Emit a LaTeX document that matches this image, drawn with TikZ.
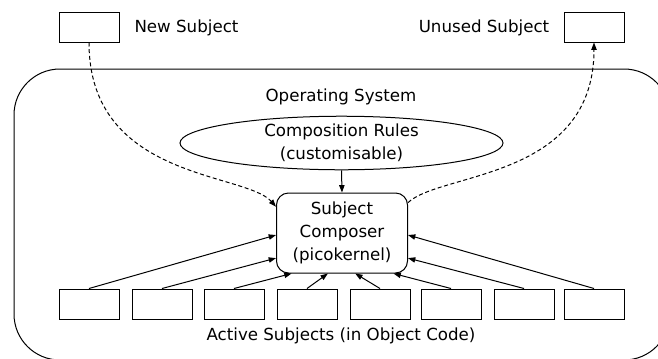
\documentclass[tikz,border=0pt]{standalone}
\usepackage{fontspec}
\setmainfont{DejaVu Sans}
\usetikzlibrary{shapes.geometric,arrows.meta,calc}
\begin{document}
\begin{tikzpicture}[x=0.75pt,y=-0.75pt,
  every node/.style={font=\fontsize{12.5}{17.25}\selectfont},
  sbox/.style={draw,line width=0.75pt,minimum width=45pt,minimum height=22.5pt,inner sep=0pt},
  lbl/.style={inner sep=0pt,align=center},
  arr/.style={line width=0.75pt,-{Triangle[length=5.5pt,width=4pt]}},
  darr/.style={arr,dash pattern=on 3pt off 2pt}]
\useasboundingbox (0,0) rectangle (658,358);
\begin{scope}
\clip (0,0) rectangle (658,358);
% operating system
\draw[line width=0.75pt,rounded corners=34.5pt] (14,69) rectangle (670,360);
\end{scope}
\node[lbl] (ostxt) at (341,97) {Operating System};
% top subjects
\node[sbox] (new) at (89,27) {};
\node[lbl] (newtxt) at (186.5,28) {New Subject};
\node[sbox] (unused) at (594,27) {};
\node[lbl] (unusedtxt) at (484,28) {Unused Subject};
% rules
\node[draw,ellipse,line width=0.75pt,minimum width=242.25pt,minimum height=37.5pt,inner sep=0pt,align=center] (rules) at (341.5,143) {Composition Rules\\(customisable)};
% composer
\node[draw,line width=0.75pt,rounded corners=9pt,minimum width=98.25pt,minimum height=60pt,inner sep=0pt,align=center] (comp) at (342,233) {Subject\\Composer\\(picokernel)};
% active subjects
\foreach \i/\x in {1/89,2/162,3/234,4/307,5/380,6/451,7/524,8/594}{
  \node[sbox] (a\i) at (\x,304) {};
}
\node[lbl] (acttxt) at (341,336) {Active Subjects (in Object Code)};
% arrows
\draw[arr] (rules.south) -- (comp.north);
\draw[arr] (a1.north) -- ($(comp.north west)!0.525!(comp.south west)$);
\draw[arr] (a2.north) -- ($(comp.north west)!0.81!(comp.south west)$);
\draw[arr] (a3.north) -- ($(comp.south west)!0.118!(comp.south east)$);
\draw[arr] (a4.north) -- ($(comp.south west)!0.393!(comp.south east)$);
\draw[arr] (a5.north) -- ($(comp.south west)!0.6!(comp.south east)$);
\draw[arr] (a6.north) -- ($(comp.south west)!0.89!(comp.south east)$);
\draw[arr] (a7.north) -- ($(comp.north east)!0.81!(comp.south east)$);
\draw[arr] (a8.north) -- ($(comp.north east)!0.525!(comp.south east)$);
% dashed
\coordinate (cin) at ($(comp.north west)!0.175!(comp.south west)$);
\coordinate (cout) at ($(comp.north east)!0.125!(comp.south east)$);
\draw[darr] (new.south) .. controls (89,180) and (245,172) .. (cin);
\draw[darr] (cout) .. controls (440,172) and (594,180) .. (unused.south);
\end{tikzpicture}
\end{document}
